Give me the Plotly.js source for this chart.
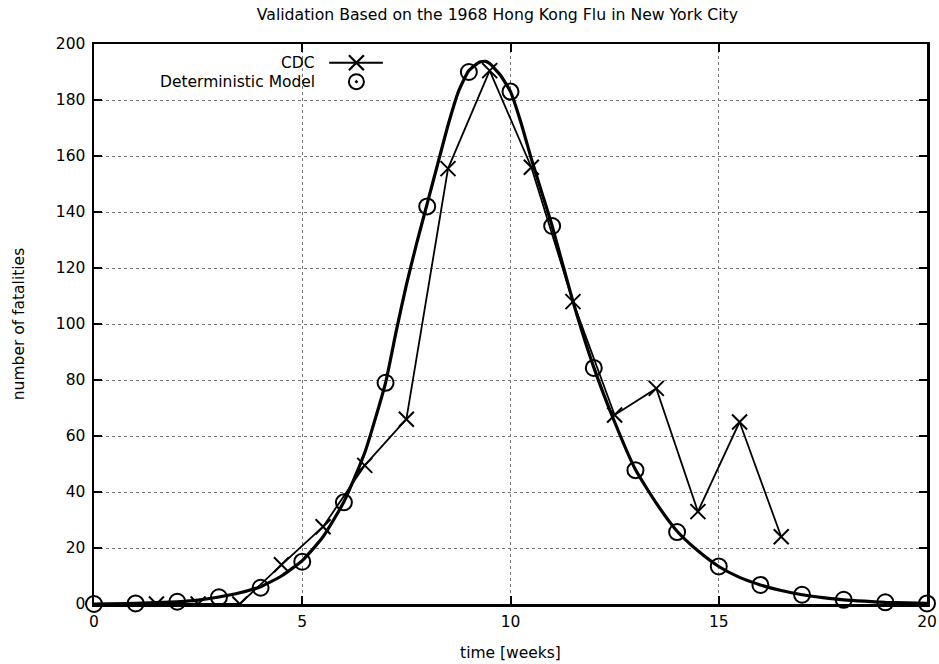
<!DOCTYPE html>
<html>
<head>
<meta charset="utf-8">
<script src="https://cdn.plot.ly/plotly-3.0.1.min.js"></script>
<style>html,body{margin:0;padding:0;background:#fff;}#chart{width:939px;height:664px;}</style>
</head>
<body>
<div id="chart"></div>
<script>
// CDC observed weekly fatalities
var cdcWeeks = [1.5, 2.5, 3.5, 4.5, 5.5, 6.5, 7.5, 8.5, 9.5, 10.5, 11.5, 12.5, 13.5, 14.5, 15.5, 16.5];
var cdcDeaths = [0, 0, 0, 14, 27.6, 49.5, 66, 155.5, 190.5, 156, 108, 67.5, 77, 33, 65, 24];

// Deterministic model sampled weekly (circles)
var modelWeeks = [0, 1, 2, 3, 4, 5, 6, 7, 8, 9, 10, 11, 12, 13, 14, 15, 16, 17, 18, 19, 20];
var modelDeaths = [0, 0.2, 0.8, 2.4, 5.8, 15.1, 36.3, 79, 142, 190, 183, 135, 84.3, 47.8, 25.7, 13.4, 6.8, 3.3, 1.5, 0.6, 0.2];

// Deterministic model continuous curve
var curveWeeks = [0, 1, 2, 2.5, 3, 3.5, 4, 4.5, 5, 5.5, 6, 6.5, 7, 7.25, 7.5, 7.75, 8, 8.25, 8.5, 8.75, 9, 9.25, 9.4, 9.5, 9.75, 10, 10.25, 10.5, 10.75, 11, 11.5, 12, 12.5, 13, 13.5, 14, 14.5, 15, 15.5, 16, 16.5, 17, 17.5, 18, 18.5, 19, 19.5, 20];
var curveDeaths = [0, 0.2, 0.8, 1.4, 2.5, 4, 6.2, 10, 15.5, 24, 36.5, 54, 79, 97, 114, 129, 143, 157, 171, 183, 190.5, 193.5, 193.8, 193, 189, 183, 172, 159, 147, 135, 108, 84.5, 65, 48, 36, 26, 19, 13.4, 9.5, 6.8, 4.8, 3.3, 2.3, 1.5, 1, 0.6, 0.4, 0.2];

var xTicks = [0, 5, 10, 15, 20];
var yTicks = [0, 20, 40, 60, 80, 100, 120, 140, 160, 180, 200];

var legendNames = ['CDC', 'Deterministic Model'];

var FONT = 'DejaVu Sans, Liberation Sans, Arial, sans-serif';
var FS = 15.5;

var traces = [
  {
    x: curveWeeks, y: curveDeaths, type: 'scatter', mode: 'lines',
    line: {color: '#000', width: 3.2, shape: 'spline', smoothing: 0.5},
    showlegend: false, hoverinfo: 'skip'
  },
  {
    x: cdcWeeks, y: cdcDeaths, type: 'scatter', mode: 'lines+markers',
    line: {color: '#000', width: 1.8},
    marker: {symbol: 'x-thin-open', size: 15, color: '#000', line: {color: '#000', width: 2}},
    showlegend: false
  },
  {
    x: modelWeeks, y: modelDeaths, type: 'scatter', mode: 'markers',
    marker: {symbol: 'circle-open', size: 16, color: '#000', line: {color: '#000', width: 2}},
    showlegend: false, cliponaxis: false
  },
  // legend keys (overlay axes, 0..1)
  {
    x: [0.2823, 0.3468], y: [0.9666, 0.9666], xaxis: 'x2', yaxis: 'y2',
    type: 'scatter', mode: 'lines',
    line: {color: '#000', width: 2},
    showlegend: false, hoverinfo: 'skip'
  },
  {
    x: [0.315], y: [0.9666], xaxis: 'x2', yaxis: 'y2',
    type: 'scatter', mode: 'markers',
    marker: {symbol: 'x-thin-open', size: 15, color: '#000', line: {color: '#000', width: 2.2}},
    showlegend: false, hoverinfo: 'skip'
  },
  {
    x: [0.315], y: [0.9327], xaxis: 'x2', yaxis: 'y2',
    type: 'scatter', mode: 'markers',
    marker: {symbol: 'circle-open-dot', size: 15, color: '#000', line: {color: '#000', width: 2}},
    showlegend: false, hoverinfo: 'skip'
  }
];

var layout = {
  width: 939, height: 664,
  margin: {l: 94, r: 12, t: 44, b: 60},
  paper_bgcolor: '#fff', plot_bgcolor: '#fff',
  font: {family: FONT, size: FS, color: '#000'},
  showlegend: false,
  title: {
    text: 'Validation Based on the 1968 Hong Kong Flu in New York City',
    font: {family: FONT, size: 15.7, color: '#000'},
    x: 0.5297, xanchor: 'center', y: 0.978, yanchor: 'middle'
  },
  xaxis: {
    range: [0, 20], tickvals: xTicks, ticktext: xTicks.map(String),
    ticks: 'inside', ticklen: 8, tickwidth: 2, tickcolor: '#000',
    showline: true, linecolor: '#000', linewidth: 2.5, mirror: 'ticks',
    showgrid: true, gridcolor: '#777', griddash: 'dot', gridwidth: 1,
    zeroline: false, automargin: false, ticklabelstandoff: 2,
    title: {text: 'time [weeks]', font: {family: FONT, size: FS}, standoff: 17},
    tickfont: {family: FONT, size: FS}
  },
  yaxis: {
    range: [0, 200], tickvals: yTicks, ticktext: yTicks.map(String),
    ticks: 'inside', ticklen: 8, tickwidth: 2, tickcolor: '#000',
    showline: true, linecolor: '#000', linewidth: 2.5, mirror: 'ticks',
    showgrid: true, gridcolor: '#777', griddash: 'dot', gridwidth: 1,
    zeroline: false, automargin: false, ticklabelstandoff: 3,
    title: {text: 'number of fatalities', font: {family: FONT, size: FS}, standoff: 28},
    tickfont: {family: FONT, size: FS}
  },
  xaxis2: {overlaying: 'x', range: [0, 1], visible: false, fixedrange: true},
  yaxis2: {overlaying: 'y', range: [0, 1], visible: false, fixedrange: true},
  annotations: [
    {text: legendNames[0], xref: 'paper', yref: 'paper', x: 0.268, y: 0.9666,
     xanchor: 'right', yanchor: 'middle', showarrow: false, font: {family: FONT, size: FS}},
    {text: legendNames[1], xref: 'paper', yref: 'paper', x: 0.268, y: 0.9327,
     xanchor: 'right', yanchor: 'middle', showarrow: false, font: {family: FONT, size: FS}}
  ]
};

Plotly.newPlot('chart', traces, layout, {displayModeBar: false, staticPlot: true});
</script>
</body>
</html>
